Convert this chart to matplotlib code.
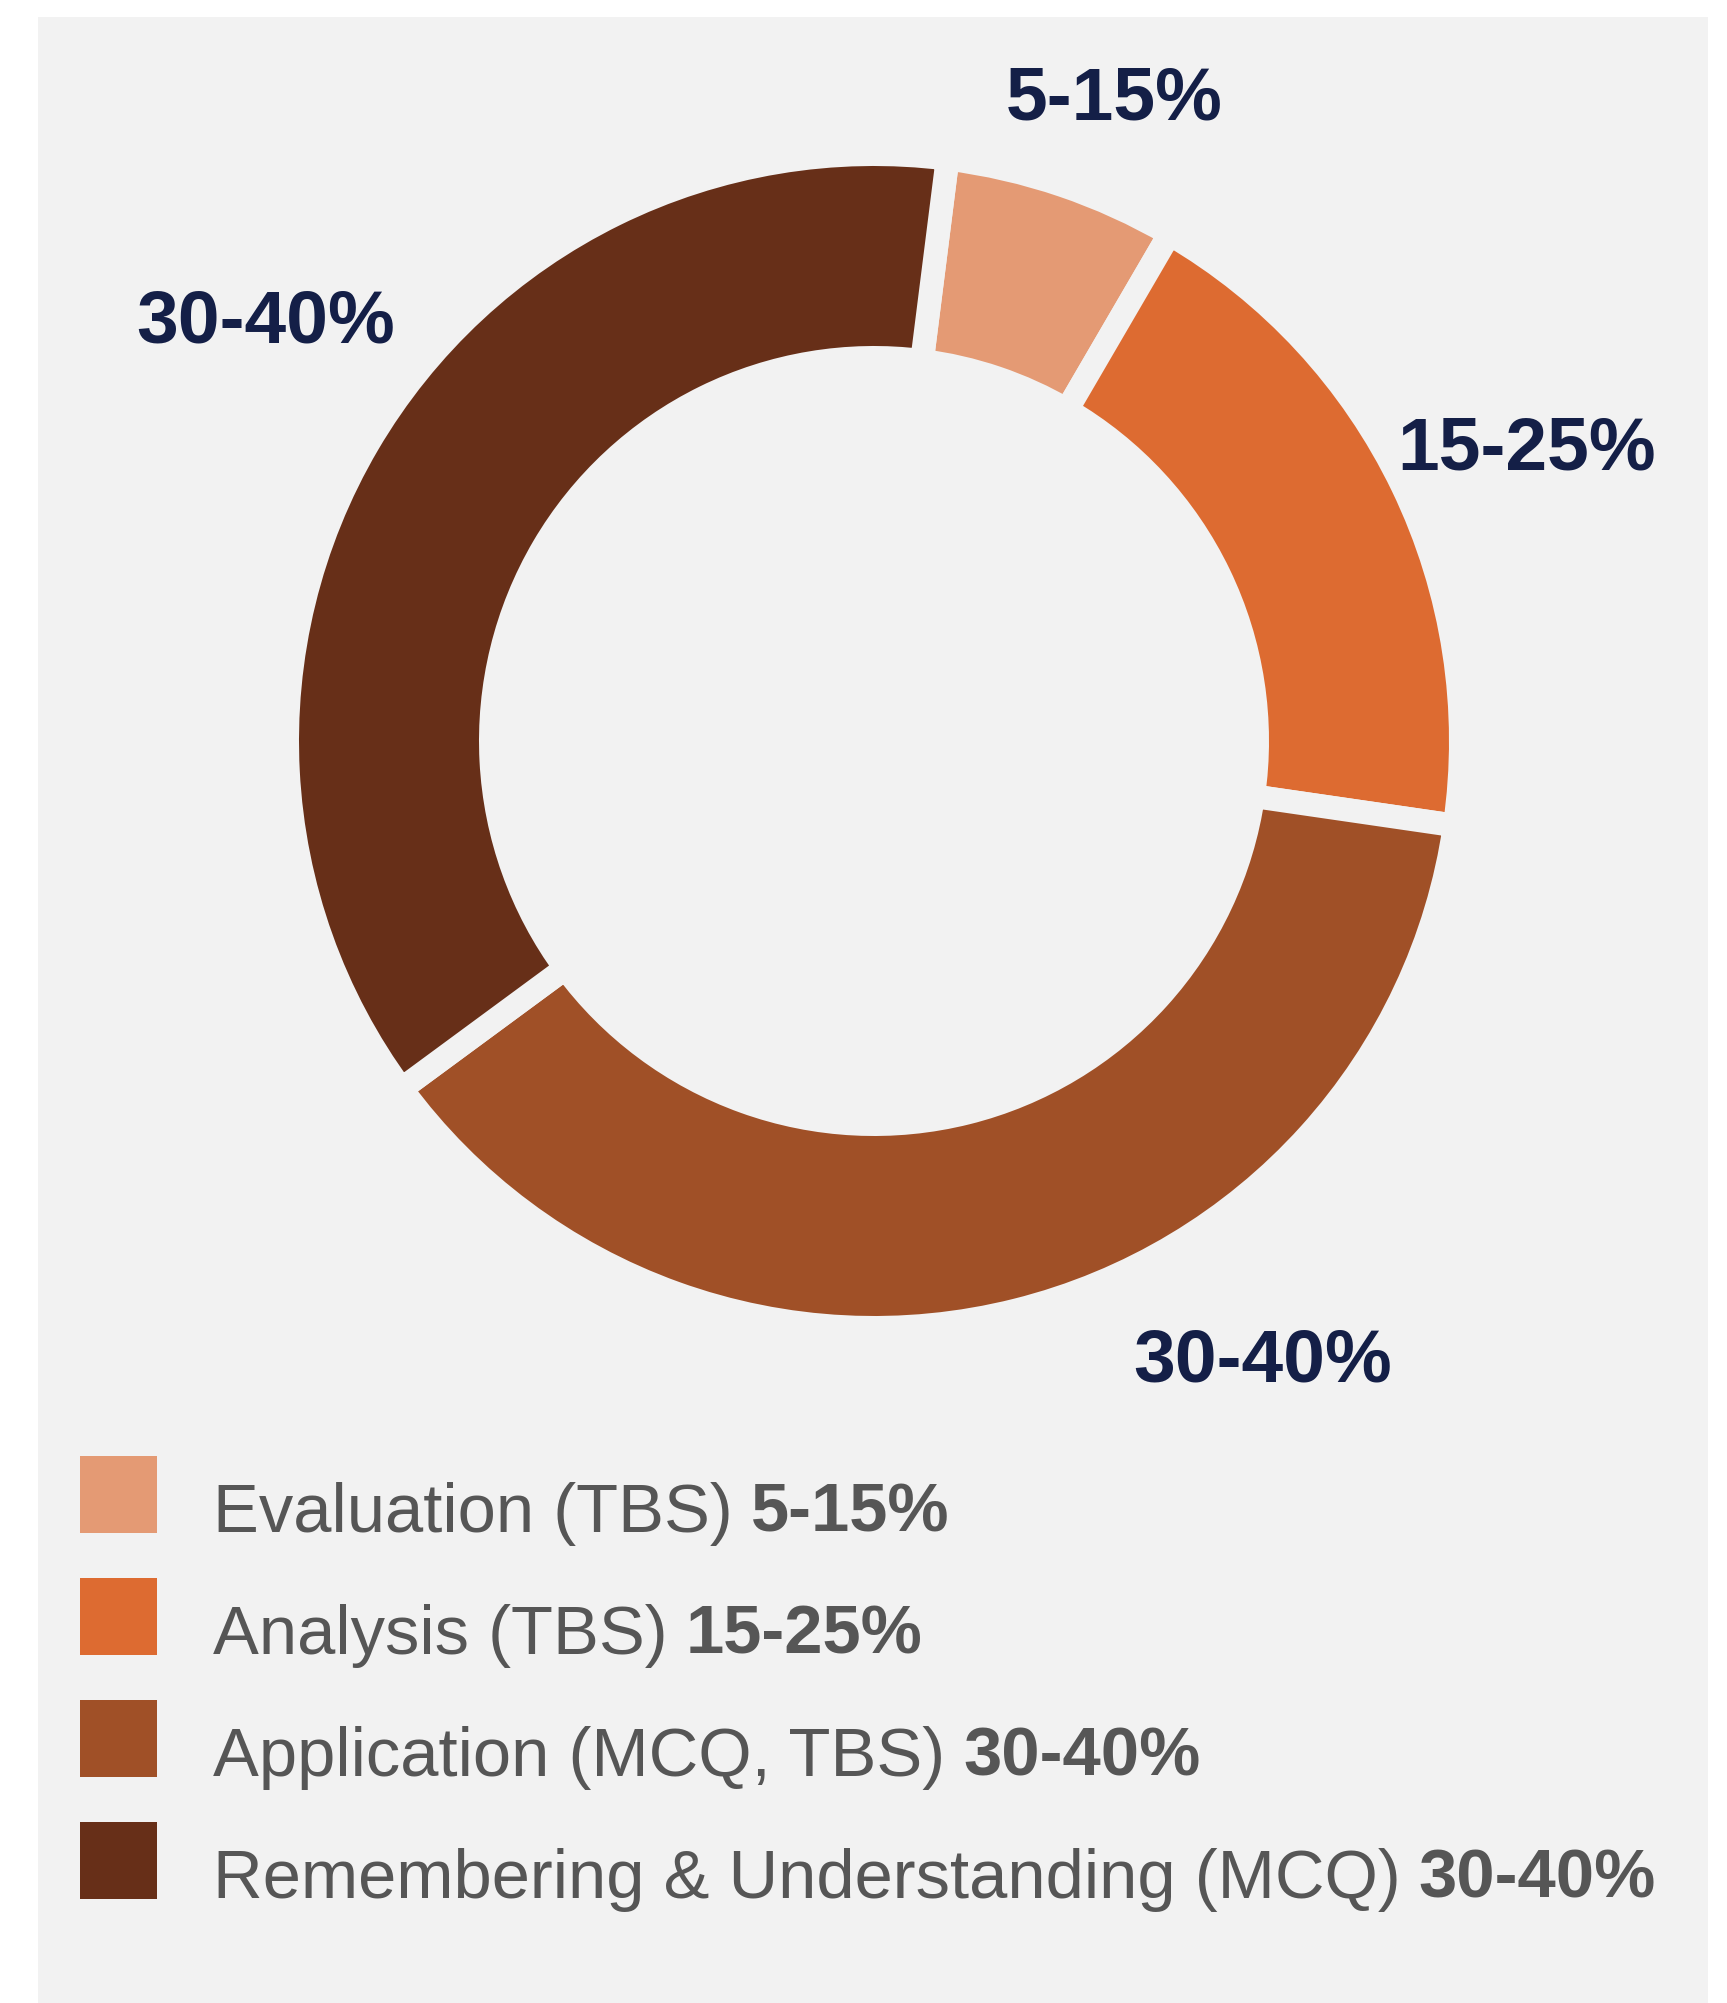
import matplotlib
matplotlib.use("Agg")
import matplotlib.pyplot as plt
from matplotlib.patches import Rectangle

plt.rcParams['font.family'] = ['Liberation Sans', 'DejaVu Sans']

# data
names = ['Evaluation (TBS)', 'Analysis (TBS)', 'Application (MCQ, TBS)',
         'Remembering & Understanding (MCQ)']
ranges = ['5-15%', '15-25%', '30-40%', '30-40%']
shares = [6.4, 18.9, 37.6, 37.1]
colors = ['#e49a74', '#dd6b31', '#a05027', '#672f18']

# label anchor points in figure pixels (y from bottom)
label_xy = [(1114, 1903), (1527, 1553), (1263, 641), (266, 1680)]

W, H = 1727, 2003
bg = '#f2f2f2'
navy = '#141f47'
grey = '#565656'

fig = plt.figure(figsize=(W / 100, H / 100), dpi=100)
fig.patch.set_facecolor('white')
fig.add_artist(Rectangle((38 / W, 0), (1708 - 38) / W, (H - 17) / H,
                         transform=fig.transFigure, facecolor=bg,
                         edgecolor='none', zorder=0))

ax = fig.add_axes([0, 0, 1, 1])
ax.patch.set_alpha(0)

lw = 17  # points, gap between slices
gap_px = lw * 100 / 72
R_out, R_in = 575, 395
cx, cy = 874, H - 741

ax.pie(shares, colors=colors, startangle=82.8, counterclock=False,
       radius=R_out + gap_px / 2, center=(cx, cy), frame=False,
       wedgeprops=dict(width=(R_out - R_in) + gap_px, edgecolor=bg,
                       linewidth=lw))
ax.set_xlim(0, W)
ax.set_ylim(0, H)
ax.set_aspect('equal')
ax.axis('off')

for (x, y), txt in zip(label_xy, ranges):
    ax.text(x, y, txt, ha='center', va='center', fontsize=54,
            fontweight='bold', color=navy)

# legend: colour square, name, bold range
sq = 77
for i, (name, rng, c) in enumerate(zip(names, ranges, colors)):
    top = 1456 + 122 * i
    bottom = H - (top + sq)
    ax.add_patch(Rectangle((80, bottom), sq, sq, facecolor=c, edgecolor='none'))
    t = ax.text(213, bottom + 1, name, ha='left', va='baseline',
                fontsize=49.5, color=grey)
    ax.annotate(rng, xy=(1, 0), xycoords=t, xytext=(13, 0),
                textcoords='offset points', va='bottom', ha='left',
                fontsize=49.5, fontweight='bold', color=grey)

fig.savefig('out.png', dpi=100, facecolor='white')
